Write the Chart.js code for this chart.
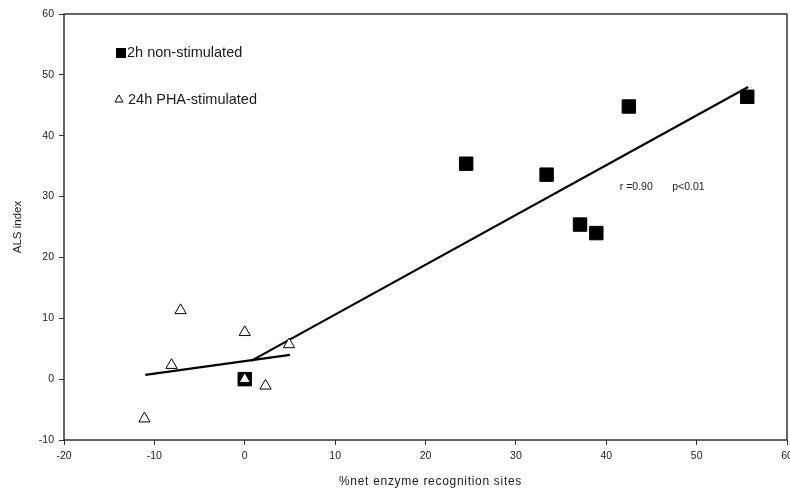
<!DOCTYPE html>
<html>
<head>
<meta charset="utf-8">
<script src="https://cdn.jsdelivr.net/npm/chart.js@4"></script>
<style>
  html, body { margin: 0; padding: 0; background: #fff; }
  #wrap { width: 790px; height: 492px; }
</style>
</head>
<body>
<div id="wrap"><canvas id="als-chart" width="790" height="492"></canvas></div>
<script>
// 2h non-stimulated (filled squares)
const nonStimX = [0, 24.5, 33.4, 37.1, 38.9, 42.5, 55.6];
const nonStimY = [0, 35.4, 33.6, 25.4, 24.0, 44.8, 46.4];
// 24h PHA-stimulated (open triangles)
const phaX = [-11.1, -8.1, -7.1, 0, 0, 2.3, 4.9];
const phaY = [-6.5, 2.3, 11.3, 7.7, 0, -1.1, 5.7];
// regression lines (end points)
const fitAllX = [0.7, 55.7];
const fitAllY = [3.0, 48.0];
const fitPhaX = [-11, 5];
const fitPhaY = [0.7, 4.0];

const xTicks = [-20, -10, 0, 10, 20, 30, 40, 50, 60];
const yTicks = [-10, 0, 10, 20, 30, 40, 50, 60];

const xTitle = '%net enzyme recognition sites';

const toPoints = (xs, ys) => xs.map((x, i) => ({ x: x, y: ys[i] }));

const fontFamily = '"Liberation Sans", Arial, sans-serif';
const ink = '#1a1a1a';

// box round the plot + legend + r/p note + x title (wide spacing)
const extras = {
  id: 'extras',
  beforeDatasetsDraw(chart) {
    const { ctx, chartArea: a } = chart;
    ctx.save();
    ctx.strokeStyle = '#333';
    ctx.lineWidth = 1.5;
    ctx.strokeRect(a.left, a.top, a.right - a.left, a.bottom - a.top);
    ctx.restore();
  },
  afterDraw(chart) {
    const { ctx, chartArea: a } = chart;
    const sx = chart.scales.x;
    const sy = chart.scales.y;
    ctx.save();
    ctx.textBaseline = 'middle';

    // legend
    ctx.fillStyle = '#000';
    ctx.fillRect(116, 48, 10, 10);
    ctx.beginPath();
    ctx.moveTo(119, 95);
    ctx.lineTo(115, 102);
    ctx.lineTo(123, 102);
    ctx.closePath();
    ctx.strokeStyle = '#000';
    ctx.lineWidth = 1;
    ctx.stroke();

    ctx.fillStyle = ink;
    ctx.font = '14.5px ' + fontFamily;
    ctx.fillText(chart.data.datasets[0].label, 127, 53);
    ctx.fillText(chart.data.datasets[1].label, 128, 100);

    // correlation note
    ctx.font = '10.5px ' + fontFamily;
    const ny = sy.getPixelForValue(31.5);
    ctx.fillText('r =0.90', sx.getPixelForValue(41.5), ny);
    ctx.fillText('p<0.01', sx.getPixelForValue(47.3), ny);

    // x axis title
    ctx.font = '12px ' + fontFamily;
    ctx.letterSpacing = '0.7px';
    ctx.textAlign = 'center';
    ctx.fillText(xTitle, (a.left + a.right) / 2 + 5, 482);
    ctx.restore();
  },
};

new Chart(document.getElementById('als-chart'), {
  type: 'scatter',
  data: {
    datasets: [
      {
        label: '2h non-stimulated',
        data: toPoints(nonStimX, nonStimY),
        pointStyle: 'rect',
        pointRadius: 9.5,
        backgroundColor: '#000',
        borderColor: '#000',
        borderWidth: 1,
        order: 2,
      },
      {
        label: '24h PHA-stimulated',
        data: toPoints(phaX, phaY),
        pointStyle: 'triangle',
        pointRadius: 6.5,
        backgroundColor: '#fff',
        borderColor: '#000',
        borderWidth: 1,
        order: 1,
      },
      {
        label: 'fit all',
        type: 'line',
        data: toPoints(fitAllX, fitAllY),
        showLine: true,
        pointRadius: 0,
        borderColor: '#000',
        borderWidth: 2.2,
        order: 3,
      },
      {
        label: 'fit PHA',
        type: 'line',
        data: toPoints(fitPhaX, fitPhaY),
        showLine: true,
        pointRadius: 0,
        borderColor: '#000',
        borderWidth: 2.2,
        order: 3,
      },
    ],
  },
  options: {
    responsive: false,
    animation: false,
    layout: { autoPadding: false, padding: { top: 14, right: 3, left: 0, bottom: 0 } },
    plugins: {
      legend: { display: false },
      tooltip: { enabled: false },
    },
    scales: {
      x: {
        type: 'linear',
        min: -20,
        max: 60,
        afterBuildTicks: s => { s.ticks = xTicks.map(v => ({ value: v })); },
        afterFit: s => { s.height = 52; s.paddingLeft = 0; s.paddingRight = 0; },
        border: { display: false },
        grid: { drawOnChartArea: false, tickLength: 5, tickColor: '#333', tickWidth: 1 },
        ticks: { color: ink, padding: 5, maxRotation: 0, font: { size: 10.5, family: fontFamily } },
        title: { display: false },
      },
      y: {
        type: 'linear',
        min: -10,
        max: 60,
        afterBuildTicks: s => { s.ticks = yTicks.map(v => ({ value: v })); },
        afterFit: s => { s.width = 64; s.paddingTop = 0; s.paddingBottom = 0; },
        border: { display: false },
        grid: { drawOnChartArea: false, tickLength: 5, tickColor: '#333', tickWidth: 1 },
        ticks: { color: ink, padding: 5, font: { size: 10.5, family: fontFamily } },
        title: {
          display: true,
          text: 'ALS index',
          color: ink,
          padding: { top: 11, bottom: 0 },
          font: { size: 11.5, family: fontFamily },
        },
      },
    },
  },
  plugins: [extras],
});
</script>
</body>
</html>
